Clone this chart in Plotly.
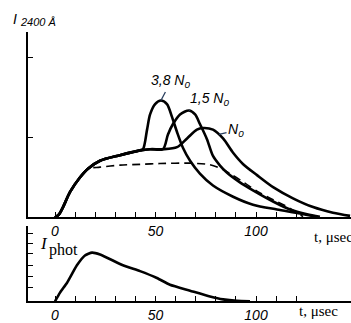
import plotly.graph_objects as go

# ---------------- data ----------------
# upper panel: I(2400 A) vs t (microseconds), arbitrary units
t_38 = [0, 2.0, 4.0, 7.5, 12.4, 16.4, 22.4, 32.3, 42.3, 43.8, 45.8, 47.3, 49.8, 52.7, 55.7,
        58.2, 60.7, 63.7, 67.2, 72.1, 78.6, 88.6, 98.5, 110.4, 121.9, 129.4]
i_38 = [0, 0.04, 0.13, 0.32, 0.50, 0.61, 0.71, 0.78, 0.84, 0.855, 1.10, 1.29, 1.42, 1.465, 1.42,
        1.26, 1.07, 0.87, 0.71, 0.55, 0.40, 0.26, 0.16, 0.10, 0.05, 0.01]

t_15 = [0, 2.0, 4.0, 7.5, 12.4, 16.4, 22.4, 32.3, 42.3, 47.3, 53.7, 56.2, 58.7, 62.2, 66.7,
        69.7, 72.1, 75.6, 78.6, 82.1, 85.6, 92.0, 98.5, 108.5, 116.9, 125.4, 131.8]
i_15 = [0, 0.04, 0.13, 0.32, 0.50, 0.61, 0.71, 0.78, 0.84, 0.855, 0.855, 1.04, 1.17, 1.29, 1.34,
        1.29, 1.17, 0.98, 0.77, 0.65, 0.56, 0.44, 0.34, 0.20, 0.10, 0.04, 0.01]

t_n0 = [0, 2.0, 4.0, 7.5, 12.4, 16.4, 22.4, 32.3, 42.3, 47.3, 53.7, 60.7, 65.7, 70.6, 73.6,
        78.6, 83.6, 88.6, 93.5, 100.5, 108.5, 118.4, 128.4, 138.3, 146.8]
i_n0 = [0, 0.04, 0.13, 0.32, 0.50, 0.61, 0.71, 0.78, 0.84, 0.855, 0.855, 0.88, 0.99, 1.10, 1.12,
        1.10, 0.99, 0.81, 0.67, 0.53, 0.38, 0.24, 0.13, 0.06, 0.02]

t_dash = [0, 2.0, 4.0, 7.5, 12.4, 16.4, 22.4, 32.3, 42.3, 52.2, 67.2, 77.1, 83.6, 88.6, 94.5,
          100.5, 107.0, 114.4, 120.4, 123.4]
i_dash = [0, 0.04, 0.13, 0.32, 0.50, 0.61, 0.63, 0.655, 0.665, 0.675, 0.68, 0.66, 0.60, 0.525, 0.43,
          0.33, 0.24, 0.15, 0.06, 0.01]

# lower panel: photocurrent
t_phot = [0, 2.5, 6.0, 10.9, 14.9, 18.4, 22.4, 33.8, 42.3, 50.7, 57.2, 67.2, 77.1, 83.6, 90.5, 97]
i_phot = [0, 0.8, 1.70, 3.30, 4.20, 4.46, 4.29, 3.30, 2.77, 2.14, 1.52, 0.98, 0.45, 0.18, 0.04, 0]

# axis ticks
x_tick_vals = [0, 10, 20, 30, 40, 50, 60, 70, 80, 90, 100, 110, 120]
x_tick_text = ["0", "", "", "", "", "50", "", "", "", "", "100", "", ""]
y_top_ticks = [1, 2]
y_bot_ticks = [1.25, 2.32, 3.30, 4.38, 5.27, 6.25]

labels = {"38": "3,8 N<sub>0</sub>", "15": "1,5 N<sub>0</sub>", "n0": "N<sub>0</sub>"}

# ---------------- figure ----------------
W, H = 351, 323
def px(x):
    return x / W
def py(y):
    return 1 - y / H

fig = go.Figure()
solid = dict(color="black", width=2.6, shape="spline", smoothing=0.8)
for t, i in [(t_38, i_38), (t_15, i_15), (t_n0, i_n0)]:
    fig.add_trace(go.Scatter(x=t, y=i, mode="lines", line=solid, xaxis="x", yaxis="y",
                             showlegend=False, hoverinfo="skip"))
fig.add_trace(go.Scatter(x=t_dash, y=i_dash, mode="lines", xaxis="x", yaxis="y",
                         line=dict(color="black", width=1.6, dash="8px,5px", shape="spline", smoothing=0.8),
                         showlegend=False, hoverinfo="skip"))
fig.add_trace(go.Scatter(x=t_phot, y=i_phot, mode="lines", xaxis="x2", yaxis="y2",
                         line=dict(color="black", width=2.6, shape="spline", smoothing=0.5),
                         showlegend=False, hoverinfo="skip"))

tickfont = dict(family="Liberation Sans", size=14, color="black", style="italic")
xcommon = dict(domain=[px(28), 1], range=[(28 - 55) / 2.01, (351 - 55) / 2.01],
               showline=True, linecolor="black", linewidth=2, ticks="inside", ticklen=5,
               tickwidth=1.4, tickcolor="black", tickvals=x_tick_vals, ticktext=x_tick_text,
               tickfont=tickfont, showgrid=False, zeroline=False, fixedrange=True)
ycommon = dict(showline=True, linecolor="black", linewidth=2, ticks="inside", ticklen=5,
               tickwidth=1.4, tickcolor="black", showticklabels=False, showgrid=False,
               zeroline=False, fixedrange=True)

fig.update_layout(
    width=W, height=H, margin=dict(l=0, r=0, t=0, b=0),
    paper_bgcolor="white", plot_bgcolor="white",
    xaxis=dict(anchor="y", **xcommon),
    yaxis=dict(anchor="x", domain=[py(223), py(33)], range=[0, 2.32], tickvals=y_top_ticks, **ycommon),
    xaxis2=dict(anchor="y2", **xcommon),
    yaxis2=dict(anchor="x2", domain=[py(309), py(232)], range=[0, 6.875], tickvals=y_bot_ticks, **ycommon),
)

sans_i = dict(family="Liberation Sans", color="black", style="italic")
serif = dict(family="Liberation Serif", color="black")
ann = []
# axis titles
ann.append(dict(text="I", x=px(15), y=py(19), font=dict(size=14, **sans_i)))
ann.append(dict(text="2400 Å", x=px(18), y=py(23), xanchor="left", font=dict(size=11, **sans_i)))
ann.append(dict(text="t, μsec", x=px(312), y=py(243), xanchor="left", font=dict(size=15, **serif)))
ann.append(dict(text="<i>I</i>", x=px(44), y=py(250), font=dict(size=17, **serif)))
ann.append(dict(text="phot", x=px(47), y=py(256), xanchor="left", font=dict(size=16, **serif)))
ann.append(dict(text="t, μsec", x=px(297), y=py(319), xanchor="left", font=dict(size=15, **serif)))
for a in ann:
    a.update(xref="paper", yref="paper", showarrow=False, yanchor="middle",
             xanchor=a.get("xanchor", "center"))
fig.update_layout(annotations=ann)

# curve labels with leader lines pointing to the peaks
k38 = i_38.index(max(i_38))
k15 = i_15.index(max(i_15))
lab_font = dict(size=14, **sans_i)
fig.add_annotation(x=t_38[k38], y=i_38[k38], xref="x", yref="y", text=labels["38"], font=lab_font,
                   showarrow=True, arrowhead=0, arrowwidth=1.3, ax=10, ay=-19, standoff=0)
fig.add_annotation(x=t_15[k15], y=i_15[k15], xref="x", yref="y", text=labels["15"], font=lab_font,
                   showarrow=True, arrowhead=0, arrowwidth=1.3, ax=20, ay=-11, standoff=0)
fig.add_annotation(x=t_n0[15] + 3, y=i_n0[15] - 0.06, xref="x", yref="y", text=labels["n0"], font=lab_font,
                   showarrow=True, arrowhead=0, arrowwidth=1.3, ax=17, ay=-4, standoff=0)

fig.write_html("out.html", config={"displayModeBar": False},
               post_script="document.body.style.margin='0';document.body.style.overflow='hidden';")
